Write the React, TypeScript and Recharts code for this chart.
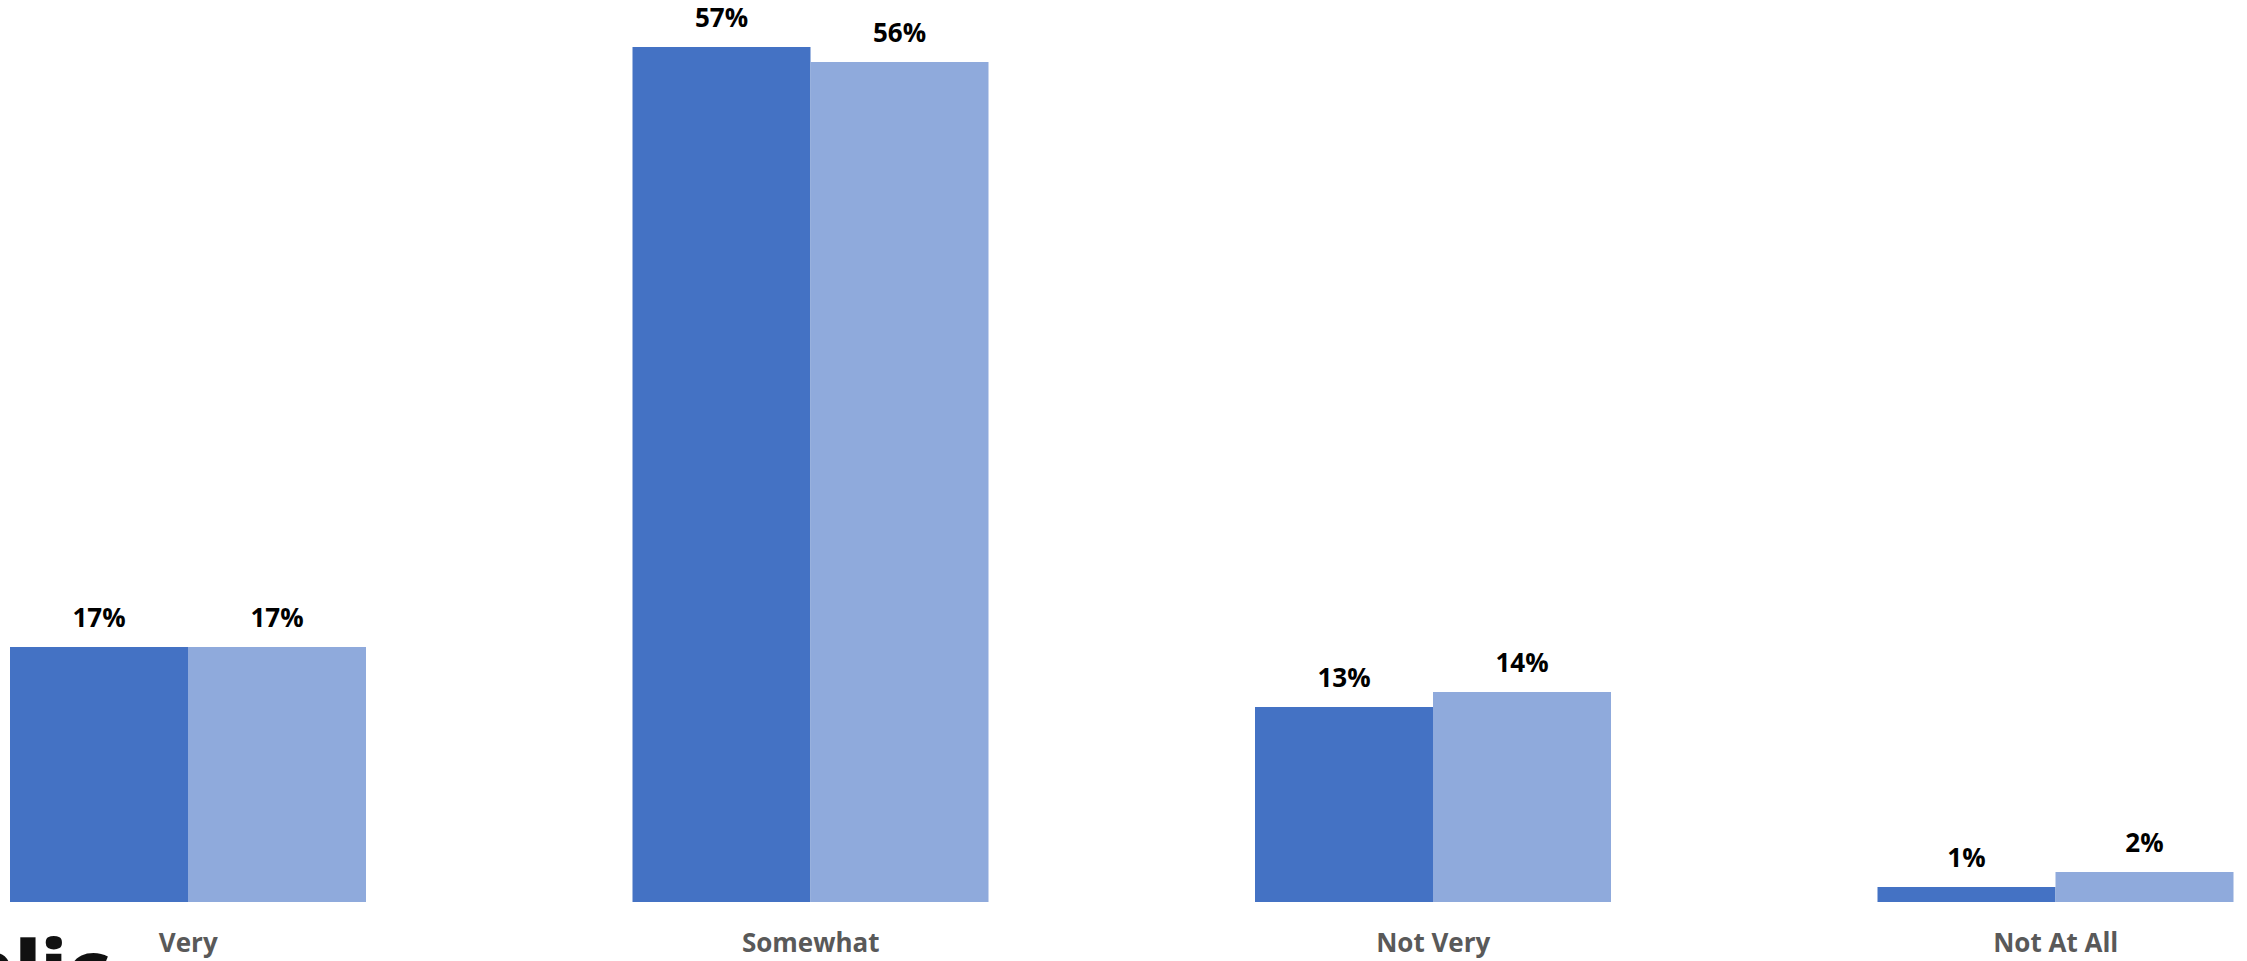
import React from "react";
import { BarChart, Bar, XAxis, YAxis, LabelList } from "recharts";

const categories = ["Very", "Somewhat", "Not Very", "Not At All"];
const series1Values = [17, 57, 13, 1];
const series2Values = [17, 56, 14, 2];

const data = categories.map((c, i) => ({
  name: c,
  s1: series1Values[i],
  s2: series2Values[i],
}));

const FONT = "'Open Sans', 'Noto Sans', sans-serif";

const pct = (v: any) => `${v}%`;

const CatTick = (props: any) => {
  const { x, y, payload } = props;
  return (
    <text
      x={x}
      y={y}
      dy={50}
      textAnchor="middle"
      fill="#595959"
      fontFamily={FONT}
      fontWeight={700}
      fontSize={26}
    >
      {payload.value}
    </text>
  );
};

export default function App() {
  return (
    <div
      style={{
        position: "fixed",
        left: 0,
        top: 0,
        width: 2247,
        height: 961,
        overflow: "hidden",
        background: "#ffffff",
      }}
    >
      <div style={{ position: "absolute", left: -123, top: 0 }}>
        <BarChart
          width={2490}
          height={961}
          data={data}
          margin={{ top: 2, right: 0, bottom: 0, left: 0 }}
          barCategoryGap={133}
          barGap={0}
        >
          <XAxis
            dataKey="name"
            axisLine={false}
            tickLine={false}
            tickSize={0}
            tickMargin={0}
            height={59}
            tick={<CatTick />}
            interval={0}
          />
          <YAxis hide domain={[0, 60]} />
          <Bar dataKey="s1" fill="#4472C4" isAnimationActive={false}>
            <LabelList
              dataKey="s1"
              position="top"
              offset={20}
              formatter={pct}
              fill="#000000"
              fontFamily={FONT}
              fontWeight={700}
              fontSize={26}
            />
          </Bar>
          <Bar dataKey="s2" fill="#8FAADC" isAnimationActive={false}>
            <LabelList
              dataKey="s2"
              position="top"
              offset={20}
              formatter={pct}
              fill="#000000"
              fontFamily={FONT}
              fontWeight={700}
              fontSize={26}
            />
          </Bar>
        </BarChart>
      </div>
      <svg
        width={2247}
        height={961}
        style={{ position: "absolute", left: 0, top: 0, pointerEvents: "none" }}
      >
        <text
          x={110}
          y={998}
          textAnchor="end"
          fill="#111111"
          fontFamily={FONT}
          fontWeight={800}
          fontSize={80}
        >
          Public
        </text>
      </svg>
    </div>
  );
}
